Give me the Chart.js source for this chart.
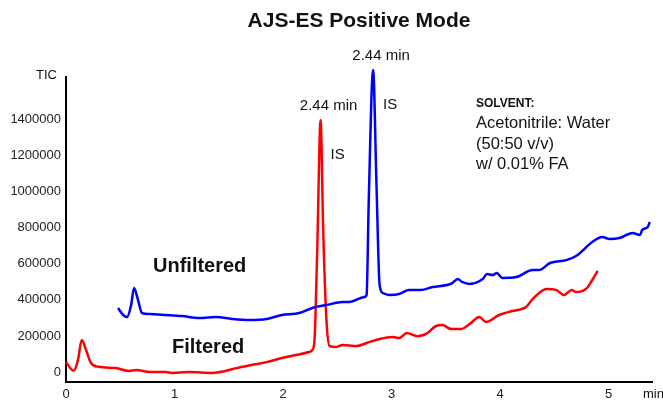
<!DOCTYPE html>
<html>
<head>
<meta charset="utf-8">
<script src="https://cdn.jsdelivr.net/npm/chart.js@4.4.0/dist/chart.umd.min.js"></script>
<style>
  html, body { margin: 0; padding: 0; background: #fff; }
</style>
</head>
<body>
<canvas id="ticChart" width="663" height="400"></canvas>
<script>
// Filtered trace (red): retention time (min) and TIC
const filteredTime = [0.00, 0.07, 0.11, 0.145, 0.185, 0.23, 0.30, 0.46, 0.58, 0.65, 0.77, 0.92, 0.98, 1.13, 1.35, 1.46, 1.57, 1.71, 1.85, 1.99, 2.12, 2.24, 2.27, 2.29, 2.315, 2.346, 2.37, 2.40, 2.43, 2.49, 2.55, 2.68, 2.77, 2.89, 3.01, 3.07, 3.14, 3.24, 3.33, 3.41, 3.47, 3.55, 3.64, 3.72, 3.81, 3.87, 3.99, 4.11, 4.24, 4.30, 4.43, 4.52, 4.59, 4.66, 4.70, 4.80, 4.85, 4.90];
const filteredTIC = [55000, 7000, 66000, 177000, 122000, 50000, 29000, 22000, 6000, 11000, 0, 0, -5000, 0, -5000, 5000, 22000, 39000, 55000, 78000, 94000, 111000, 122000, 177000, 676000, 1396000, 787000, 288000, 144000, 139000, 150000, 144000, 161000, 183000, 194000, 188000, 216000, 199000, 216000, 255000, 260000, 238000, 238000, 266000, 305000, 277000, 316000, 338000, 360000, 404000, 460000, 454000, 427000, 454000, 443000, 465000, 510000, 560000];

// Unfiltered trace (blue)
const unfilteredTime = [0.48, 0.526, 0.563, 0.60, 0.627, 0.664, 0.70, 0.77, 0.92, 1.07, 1.23, 1.38, 1.53, 1.69, 1.85, 1.92, 1.99, 2.15, 2.27, 2.40, 2.55, 2.61, 2.75, 2.77, 2.79, 2.83, 2.86, 2.89, 2.92, 2.98, 3.07, 3.16, 3.27, 3.38, 3.51, 3.56, 3.61, 3.65, 3.72, 3.84, 3.88, 3.93, 3.97, 4.02, 4.15, 4.30, 4.36, 4.46, 4.61, 4.70, 4.85, 4.94, 5.01, 5.10, 5.22, 5.29, 5.31, 5.36, 5.38];
const unfilteredTIC = [355000, 316000, 305000, 371000, 465000, 399000, 327000, 321000, 316000, 310000, 299000, 305000, 294000, 288000, 294000, 305000, 316000, 327000, 355000, 371000, 388000, 388000, 416000, 427000, 953000, 1673000, 1064000, 482000, 438000, 427000, 432000, 454000, 454000, 471000, 482000, 493000, 515000, 499000, 488000, 515000, 543000, 537000, 548000, 521000, 526000, 565000, 565000, 604000, 620000, 643000, 720000, 748000, 737000, 742000, 770000, 759000, 787000, 803000, 831000];

// Tick values
const xTickValues = [0, 1, 2, 3, 4, 5];
const yTickValues = [0, 200000, 400000, 600000, 800000, 1000000, 1200000, 1400000];

// Peak labels: [time, TIC] of each IS peak
const peakTimes = [2.346, 2.83];
const peakTIC = [1396000, 1673000];
const peakLabel = "2.44 min";
const peakTag = "IS";

const solventLines = ["Acetonitrile: Water", "(50:50 v/v)", "w/ 0.01% FA"];

const FONT = "'Liberation Sans', Arial, Helvetica, sans-serif";

function toPoints(xs, ys) {
  return xs.map((x, i) => ({ x: x, y: ys[i] }));
}

// draw title, axis captions and annotations
const textPlugin = {
  id: 'texts',
  afterDraw(chart) {
    const ctx = chart.ctx;
    const xs = chart.scales.x, ys = chart.scales.y;
    const area = chart.chartArea;
    ctx.save();
    ctx.fillStyle = '#111';
    ctx.textBaseline = 'alphabetic';

    // title
    ctx.font = 'bold 21px ' + FONT;
    ctx.textAlign = 'center';
    ctx.fillText('AJS-ES Positive Mode', (area.left + area.right) / 2, 27);

    // axis captions
    ctx.font = '13px ' + FONT;
    ctx.textAlign = 'right';
    ctx.fillText('TIC', 57, 79);
    ctx.textAlign = 'left';
    ctx.fillText('min', 643, 398);

    // peak labels
    ctx.font = '15px ' + FONT;
    for (let i = 0; i < peakTimes.length; i++) {
      const px = xs.getPixelForValue(peakTimes[i]);
      const py = ys.getPixelForValue(peakTIC[i]);
      ctx.textAlign = 'center';
      ctx.fillText(peakLabel, px + 8, py - 10);
      ctx.textAlign = 'left';
      ctx.fillText(peakTag, px + 10, py + 39);
    }

    // series captions
    ctx.font = 'bold 20px ' + FONT;
    ctx.fillText('Unfiltered', 153, 272);
    ctx.fillText('Filtered', 172, 353);

    // solvent box
    ctx.font = 'bold 12px ' + FONT;
    ctx.fillText('SOLVENT:', 476, 107);
    ctx.font = '16.5px ' + FONT;
    solventLines.forEach((s, i) => ctx.fillText(s, 476, 128 + i * 20.5));

    ctx.restore();
  }
};

const ctx = document.getElementById('ticChart').getContext('2d');
new Chart(ctx, {
  type: 'line',
  data: {
    datasets: [
      {
        label: 'Unfiltered',
        data: toPoints(unfilteredTime, unfilteredTIC),
        borderColor: '#0000ff',
        borderWidth: 2.5,
        pointRadius: 0,
        cubicInterpolationMode: 'monotone',
        clip: false
      },
      {
        label: 'Filtered',
        data: toPoints(filteredTime, filteredTIC),
        borderColor: '#ff0000',
        borderWidth: 2.5,
        pointRadius: 0,
        cubicInterpolationMode: 'monotone',
        clip: false
      }
    ]
  },
  options: {
    responsive: false,
    animation: false,
    layout: { padding: { top: 77, right: 11, left: 0, bottom: 0 } },
    plugins: {
      legend: { display: false },
      tooltip: { enabled: false },
      title: { display: false }
    },
    scales: {
      x: {
        type: 'linear',
        min: 0,
        max: 5.4,
        grid: { display: false, drawTicks: false },
        border: { display: true, color: '#000', width: 2 },
        ticks: {
          padding: 5,
          color: '#222',
          maxRotation: 0,
          font: { family: FONT, size: 13 },
          callback: v => String(v)
        },
        afterBuildTicks(scale) {
          scale.ticks = xTickValues.map(v => ({ value: v }));
        },
        afterFit(scale) { scale.height = 18; }
      },
      y: {
        min: -55000,
        max: 1634000,
        grid: { display: false, drawTicks: false },
        border: { display: true, color: '#000', width: 2 },
        ticks: {
          padding: 5,
          color: '#222',
          font: { family: FONT, size: 13 },
          callback: v => String(v)
        },
        afterBuildTicks(scale) {
          scale.ticks = yTickValues.map(v => ({ value: v }));
        },
        afterFit(scale) { scale.width = 66; }
      }
    }
  },
  plugins: [textPlugin]
});
</script>
</body>
</html>
